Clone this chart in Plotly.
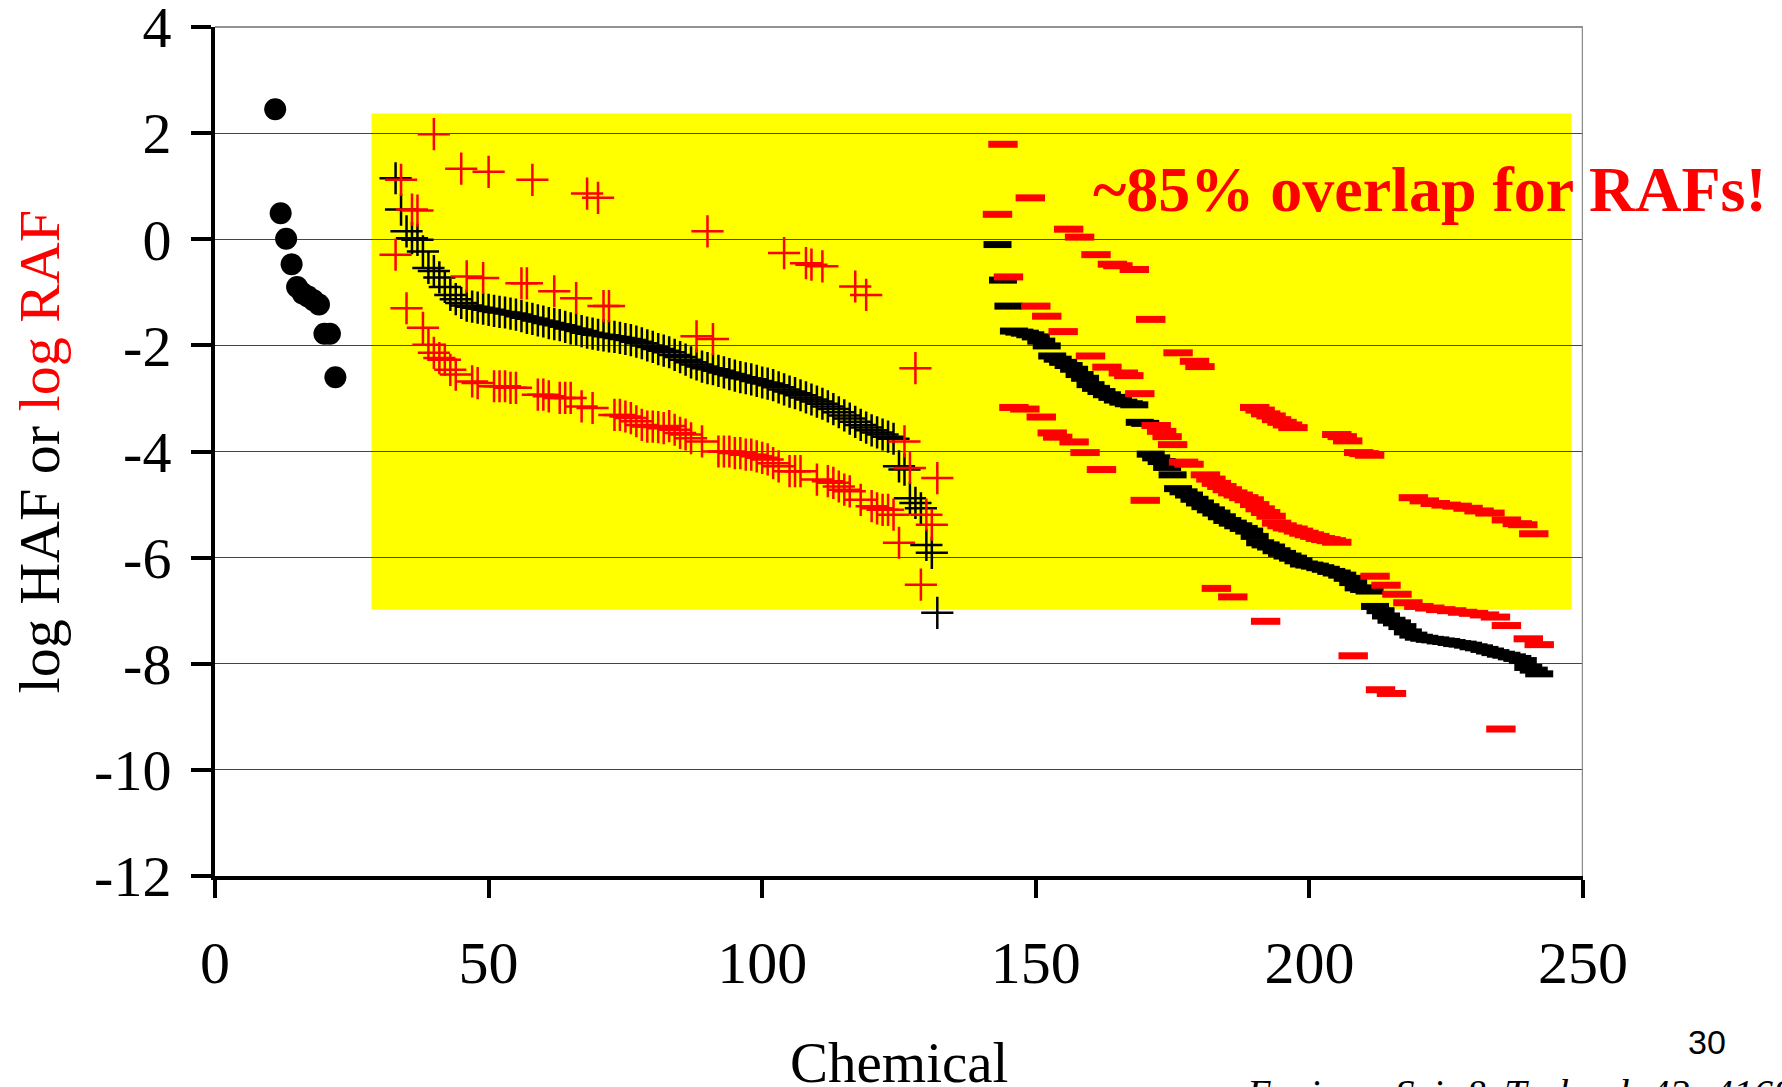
import plotly.graph_objects as go

# ---------------- data ----------------
# black filled circles (first group, HAF)
circle_x = [11, 12, 13, 14, 15, 16, 17, 18, 19, 20, 21, 22]
circle_y = [2.45, 0.49, 0.01, -0.47, -0.9, -1.02, -1.08, -1.15, -1.23, -1.78, -1.78, -2.6]

# black crosses (log HAF, chemicals 33-132)
haf_cross_x = list(range(33, 133))
haf_cross_y = [1.15, 0.56, 0.15, 0.02, -0.01, -0.23, -0.54, -0.6, -0.72, -0.9,
               -1.05, -1.13, -1.2, -1.25, -1.27, -1.29, -1.31, -1.33, -1.35, -1.37,
               -1.38, -1.4, -1.42, -1.45, -1.48, -1.5, -1.53, -1.55, -1.58, -1.6,
               -1.62, -1.65, -1.68, -1.7, -1.73, -1.76, -1.78, -1.8, -1.81, -1.83,
               -1.84, -1.86, -1.88, -1.9, -1.93, -1.96, -2.0, -2.03, -2.07, -2.1,
               -2.13, -2.18, -2.22, -2.27, -2.32, -2.36, -2.4, -2.43, -2.45, -2.48,
               -2.51, -2.54, -2.57, -2.6, -2.62, -2.64, -2.67, -2.7, -2.72, -2.75,
               -2.79, -2.83, -2.87, -2.9, -2.94, -2.98, -3.02, -3.06, -3.1, -3.15,
               -3.2, -3.26, -3.32, -3.38, -3.44, -3.5, -3.55, -3.6, -3.64, -3.68,
               -3.72, -3.76, -4.28, -4.34, -4.88, -4.97, -5.07, -5.76, -5.91, -7.04]

# red crosses (log RAF, chemicals 33-132)
raf_cross_x = [33, 34, 35, 36, 37, 38, 39, 40, 40, 41, 42, 43, 44, 45, 46, 47, 48, 49, 50,
               51, 52, 53, 54, 55, 56, 57, 58, 59, 60, 61, 62, 63, 64, 65, 66, 67, 68, 69,
               70, 71, 72, 73, 74, 75, 76, 77, 78, 79, 80, 81, 82, 83, 84, 85, 86, 87, 88,
               89, 90, 91, 92, 93, 94, 95, 96, 97, 98, 99, 100, 101, 102, 103, 104, 105,
               106, 107, 108, 109, 110, 111, 112, 113, 114, 115, 116, 117, 118, 119, 120,
               121, 122, 123, 124, 125, 126, 127, 128, 129, 130, 131, 132]
raf_cross_y = [-0.29, 1.12, -1.3, 0.56, 0.54, -1.67, -1.99, 1.98, -2.14, -2.24, -2.27, -2.46,
               -2.55, 1.33, -0.7, -2.68, -2.71, -0.73, 1.27, -2.77, -2.77, -2.77, -2.8, -2.8,
               -0.83, -0.83, 1.12, -2.93, -2.93, -2.96, -0.98, -2.99, -2.99, -2.99, -1.11,
               -3.15, 0.86, -3.18, 0.78, -1.26, -1.26, -3.31, -3.31, -3.34, -3.37, -3.43,
               -3.5, -3.53, -3.53, -3.54, -3.56, -3.52, -3.59, -3.65, -3.68, -3.75, -1.83,
               -3.81, 0.15, -1.88, -4.0, -4.0, -4.0, -4.03, -4.03, -4.06, -4.06, -4.09,
               -4.12, -4.15, -4.22, -4.28, -0.26, -4.37, -4.37, -4.37, -0.45, -0.48, -4.53,
               -0.51, -4.56, -4.59, -4.66, -4.72, -4.75, -0.89, -4.91, -1.05, -5.03, -5.07,
               -5.1, -5.1, -5.19, -5.72, -3.81, -4.31, -2.43, -6.51, -5.19, -5.38, -4.5]

# black dashes (log HAF, chemicals 143-242)
haf_dash_x = list(range(143, 243))
haf_dash_y = [-0.1, -0.77, -1.26, -1.73, -1.75, -1.77, -1.8, -1.84, -1.92, -2.01,
              -2.2, -2.26, -2.32, -2.38, -2.45, -2.55, -2.62, -2.74, -2.81, -2.87,
              -2.93, -2.98, -3.03, -3.07, -3.1, -3.12, -3.45, -3.47, -4.05, -4.12,
              -4.19, -4.3, -4.44, -4.7, -4.76, -4.82, -4.9, -4.97, -5.04, -5.1,
              -5.16, -5.23, -5.3, -5.35, -5.4, -5.45, -5.5, -5.6, -5.72, -5.76,
              -5.8, -5.87, -5.92, -5.97, -6.01, -6.06, -6.12, -6.14, -6.16, -6.19,
              -6.22, -6.26, -6.29, -6.33, -6.39, -6.47, -6.57, -6.6, -6.63, -6.92,
              -7.0, -7.1, -7.18, -7.23, -7.3, -7.4, -7.46, -7.5, -7.52, -7.54,
              -7.55, -7.57, -7.58, -7.6, -7.62, -7.63, -7.65, -7.68, -7.7, -7.73,
              -7.76, -7.79, -7.82, -7.84, -7.87, -7.9, -7.94, -8.07, -8.12, -8.19]

# red dashes (log RAF, chemicals 143-242)
raf_dash_x = [143, 144, 145, 146, 148, 149, 150, 151, 152, 153, 154, 155, 156, 157, 158,
              159, 160, 161, 162, 163, 164, 165, 166, 167, 168, 169, 170, 171, 172, 173,
              174, 175, 176, 177, 178, 179, 180, 181, 182, 183, 183, 184, 185, 186, 186,
              187, 188, 189, 190, 190, 191, 191, 192, 192, 192, 193, 193, 194, 194, 195,
              195, 196, 196, 197, 197, 198, 199, 200, 201, 202, 203, 204, 205, 205, 206,
              207, 208, 209, 210, 211, 212, 213, 214, 215, 216, 218, 219, 220, 221, 222,
              223, 224, 225, 226, 227, 228, 229, 230, 231, 232, 233, 234, 235, 236, 236,
              238, 239, 240, 241, 242]
raf_dash_y = [0.47, 1.79, -0.71, -3.17, -3.2, 0.78, -1.26, -3.35, -1.45, -3.65, -3.73,
              -1.74, 0.19, -3.82, 0.04, -4.02, -2.2, -0.29, -4.34, -2.41, -0.47, -0.5,
              -2.52, -2.57, -0.57, -2.91, -4.92, -1.51, -3.51, -3.62, -3.72, -3.87, -2.14,
              -4.2, -4.24, -2.3, -2.4, -4.44, -4.52, -4.6, -6.58, -4.66, -4.72, -4.78,
              -6.74, -4.82, -4.87, -4.91, -3.17, -5.0, -3.22, -5.08, -3.29, -5.15, -7.2,
              -3.33, -5.22, -3.4, -5.35, -3.45, -5.4, -3.5, -5.44, -3.55, -5.46, -5.5,
              -5.54, -5.57, -5.6, -5.64, -5.66, -5.68, -3.68, -5.71, -3.72, -3.8, -7.85,
              -4.02, -4.04, -4.07, -6.35, -8.49, -6.52, -8.56, -6.69, -6.85, -4.87, -6.92,
              -4.93, -6.95, -4.98, -6.98, -5.01, -7.0, -5.03, -7.03, -5.07, -7.05, -5.12,
              -7.08, -5.16, -7.12, -9.23, -5.29, -7.28, -5.36, -5.38, -7.53, -5.55, -7.64]

x_ticks = [0, 50, 100, 150, 200, 250]
x_tick_labels = ["0", "50", "100", "150", "200", "250"]
y_ticks = [-12, -10, -8, -6, -4, -2, 0, 2, 4]
y_tick_labels = ["-12", "-10", "-8", "-6", "-4", "-2", "0", "2", "4"]

# highlighted region (data units)
box_x = [28.6, 247.9]
box_y = [-6.98, 2.37]

SERIF = "Liberation Serif, Times New Roman, serif"

fig = go.Figure()

fig.add_trace(go.Scatter(x=circle_x, y=circle_y, mode="markers",
                         marker=dict(symbol="circle", size=22, color="black"),
                         cliponaxis=False))
fig.add_trace(go.Scatter(x=haf_cross_x, y=haf_cross_y, mode="markers",
                         marker=dict(symbol="cross-thin", size=23,
                                     line=dict(color="black", width=2.5)),
                         cliponaxis=False))
fig.add_trace(go.Scatter(x=raf_cross_x, y=raf_cross_y, mode="markers",
                         marker=dict(symbol="cross-thin", size=23,
                                     line=dict(color="#ff0000", width=2.5)),
                         cliponaxis=False))
fig.add_trace(go.Scatter(x=haf_dash_x, y=haf_dash_y, mode="markers",
                         marker=dict(symbol="line-ew", size=20,
                                     line=dict(color="black", width=7)),
                         cliponaxis=False))
fig.add_trace(go.Scatter(x=raf_dash_x, y=raf_dash_y, mode="markers",
                         marker=dict(symbol="line-ew", size=21,
                                     line=dict(color="#ff0000", width=7)),
                         cliponaxis=False))

# yellow highlight
fig.add_shape(type="rect", xref="x", yref="y",
              x0=box_x[0], x1=box_x[1], y0=box_y[0], y1=box_y[1],
              fillcolor="#ffff00", line=dict(width=0), layer="below")
# top frame / gridline at y = 4
fig.add_shape(type="line", xref="paper", yref="paper", x0=0, x1=1, y0=1, y1=1,
              line=dict(color="#6e6e6e", width=1.5), layer="above")
# right frame line
fig.add_shape(type="line", xref="x", yref="paper", x0=250, x1=250, y0=0, y1=1,
              line=dict(color="#8c8c8c", width=2.5), layer="above")

fig.update_layout(
    width=1782, height=1087,
    margin=dict(l=215, r=199, t=27, b=211, autoexpand=False),
    plot_bgcolor="white", paper_bgcolor="white",
    showlegend=False,
    font=dict(family=SERIF, color="black"),
    xaxis=dict(range=[0, 250], tickmode="array", tickvals=x_ticks, ticktext=x_tick_labels,
               ticks="outside", ticklen=18, tickwidth=4, tickcolor="black",
               showline=True, linewidth=4, linecolor="black", automargin=False,
               showgrid=False, zeroline=False, ticklabelstandoff=13,
               ticklabeloverflow="allow",
               tickfont=dict(family=SERIF, size=60, color="black")),
    yaxis=dict(range=[-12, 4], tickmode="array", tickvals=y_ticks, ticktext=y_tick_labels,
               ticks="outside", ticklen=20, tickwidth=4, tickcolor="black",
               showline=True, linewidth=4, linecolor="black", automargin=False,
               showgrid=True, gridcolor="#444444", gridwidth=1, zeroline=False,
               ticklabelstandoff=8, ticklabeloverflow="allow",
               tickfont=dict(family=SERIF, size=58, color="black")),
)

fig.add_annotation(xref="paper", yref="paper", x=-0.128, y=0.5,
                   text="log HAF or <span style='color:#ff0000'>log RAF</span>",
                   textangle=-90, showarrow=False, xanchor="center", yanchor="middle",
                   font=dict(family=SERIF, size=58, color="black"))
fig.add_annotation(xref="paper", yref="paper", x=0.5, y=-0.22,
                   text="Chemical", showarrow=False, xanchor="center", yanchor="middle",
                   font=dict(family=SERIF, size=57, color="black"))
fig.add_annotation(xref="x", yref="y", x=222, y=0.93,
                   text="<b>~85% overlap for RAFs!</b>", showarrow=False,
                   xanchor="center", yanchor="middle",
                   font=dict(family=SERIF, size=64, color="#ff0000"))
fig.add_annotation(xref="paper", yref="paper", x=1.0906, y=-0.195,
                   text="30", showarrow=False, xanchor="center", yanchor="middle",
                   font=dict(family="Liberation Sans, Arial, sans-serif", size=34, color="black"))
fig.add_annotation(xref="paper", yref="paper", x=0.752, y=-0.227,
                   text="<i>Environ. Sci. &amp; Technol. 42: 4168-4173</i>", showarrow=False,
                   xanchor="left", yanchor="top",
                   font=dict(family=SERIF, size=40, color="black"))

fig.write_html("out.html")
